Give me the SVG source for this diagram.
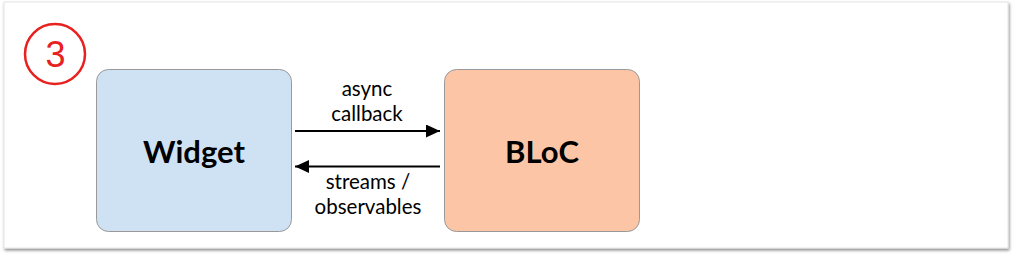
<svg xmlns="http://www.w3.org/2000/svg" width="1013" height="258" viewBox="0 0 1013 258">
<defs>
<filter id="sh" x="-5%" y="-5%" width="110%" height="115%">
<feGaussianBlur in="SourceAlpha" stdDeviation="1.5"/>
<feOffset dx="1" dy="2"/>
<feComponentTransfer><feFuncA type="linear" slope="0.45"/></feComponentTransfer>
<feMerge><feMergeNode/><feMergeNode in="SourceGraphic"/></feMerge>
</filter>
<marker id="ah" markerWidth="14" markerHeight="13" refX="14" refY="6.5" orient="auto" markerUnits="userSpaceOnUse">
<path d="M0,0 L14,6.5 L0,13 Z" fill="#000"/>
</marker>
<style>
.lbl{font-family:Lato,"Liberation Sans",sans-serif;font-size:20.5px;fill:#000;text-anchor:middle}
.big{font-family:Lato,"Liberation Sans",sans-serif;font-size:31px;font-weight:bold;fill:#000;text-anchor:middle}
.box{stroke:#999;stroke-width:1}
.con{stroke:#000;stroke-width:2;fill:none;marker-end:url(#ah)}
</style>
</defs>
<rect width="1013" height="258" fill="#fff"/>
<rect x="4" y="2" width="1004" height="246" fill="#fff" stroke="#e4e4e4" stroke-width="1" filter="url(#sh)"/>
<g id="badge">
<circle cx="55" cy="54" r="30" fill="none" stroke="#e8201e" stroke-width="2.5"/>
<text x="55.5" y="66.5" font-family="'Liberation Sans',Arial,sans-serif" font-size="36" fill="#e8201e" text-anchor="middle">3</text>
</g>
<g id="widget">
<rect class="box" x="96.5" y="69.5" width="195" height="162" rx="12" fill="#cfe2f3"/>
<text class="big" x="194" y="163">Widget</text>
</g>
<g id="bloc">
<rect class="box" x="444.5" y="69.5" width="195" height="162" rx="12" fill="#fcc5a6"/>
<text class="big" x="542" y="163">BLoC</text>
</g>
<g id="connectors">
<line class="con" x1="295" y1="131" x2="440" y2="131"/>
<line class="con" x1="440" y1="166.5" x2="295" y2="166.5"/>
<text class="lbl" x="367" y="96">async</text>
<text class="lbl" x="367" y="121">callback</text>
<text class="lbl" x="368" y="189">streams /</text>
<text class="lbl" x="368" y="214">observables</text>
</g>
</svg>
